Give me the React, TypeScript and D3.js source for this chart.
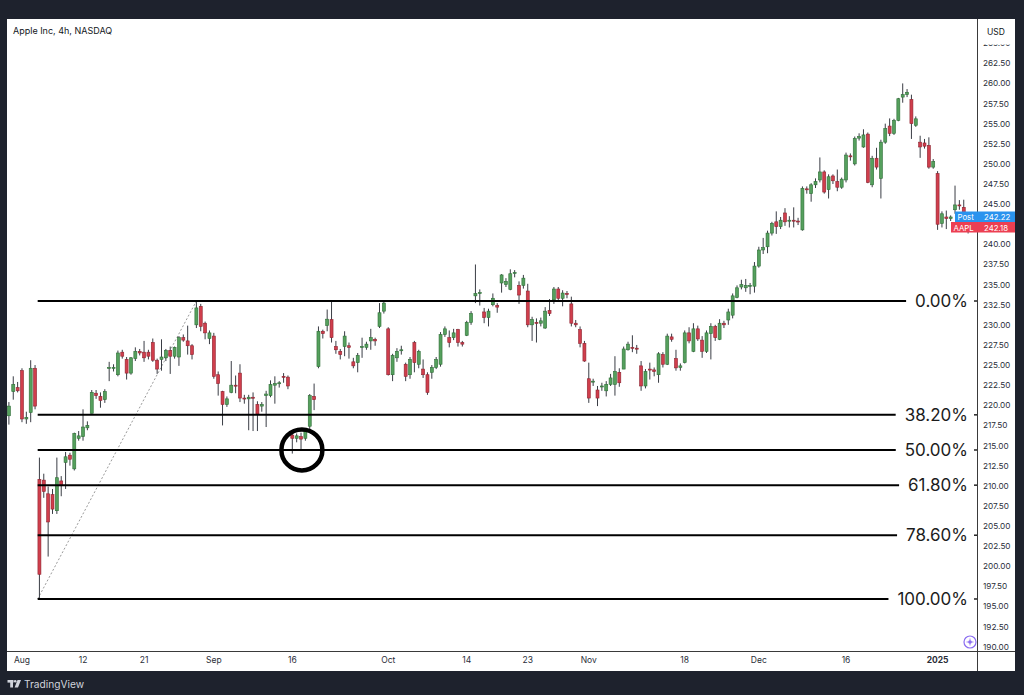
import React from "react";
import * as d3 from "d3";

// ---- data: 4h candles [open, high, low, close], bar-by-bar ----
const julBars: number[][] = [
  [218.7, 220.4, 217.6, 219.9], [221.7, 223.6, 220.7, 222.6], [222.2, 222.9, 221.6, 221.8],
];
const augBars: number[][] = [
  [224.3, 224.6, 217.9, 218.3], [218.3, 219.2, 217.7, 218.5], [219.1, 225.6, 217.9, 224.6], [224.6, 225.0, 219.5, 219.9],
  [210.8, 213.5, 195.93, 199.0], [210.7, 211.5, 208.5, 209.3], [209.0, 209.9, 201.2, 205.5], [208.9, 209.6, 206.5, 207.1],
  [206.9, 213.5, 206.5, 211.0], [210.6, 211.2, 208.7, 210.0], [212.9, 214.2, 209.6, 213.6], [213.8, 214.1, 212.5, 213.3],
  [212.1, 216.6, 211.9, 216.5], [215.9, 216.8, 215.6, 216.2], [216.1, 219.5, 215.6, 217.3], [217.2, 218.0, 216.9, 217.5],
  [219.0, 221.9, 219.0, 221.6], [221.5, 221.9, 220.8, 221.2], [221.1, 221.6, 219.7, 220.6], [220.7, 222.0, 220.3, 221.7],
  [224.6, 225.4, 223.0, 224.7], [224.7, 225.1, 224.2, 224.7], [223.8, 226.8, 223.6, 226.5], [226.6, 226.9, 225.8, 226.1],
  [225.7, 226.0, 223.2, 224.0], [224.0, 226.0, 223.8, 225.9], [225.8, 227.2, 225.5, 226.7], [226.7, 227.0, 226.2, 226.5],
  [226.6, 228.0, 225.4, 225.9], [226.6, 226.9, 225.7, 226.1], [227.8, 228.3, 225.4, 225.6], [225.6, 225.8, 223.9, 224.5],
  [225.7, 228.2, 224.3, 226.0], [225.9, 227.0, 225.5, 226.8], [226.8, 227.3, 223.9, 226.1], [226.1, 227.3, 225.8, 227.2],
  [226.0, 228.6, 224.9, 228.4], [228.4, 228.8, 227.9, 228.1], [228.0, 229.9, 226.3, 227.4], [227.4, 227.6, 225.7, 226.3],
  [230.0, 232.96, 229.6, 232.1], [232.3, 232.6, 229.2, 229.8], [230.2, 230.4, 228.2, 229.0], [228.3, 229.3, 227.6, 229.0],
];
const sepBars: number[][] = [
  [228.6, 229.0, 223.3, 223.6], [223.8, 224.2, 221.2, 222.7], [221.7, 221.8, 217.5, 220.1], [220.1, 221.1, 219.8, 220.8],
  [221.6, 225.5, 221.5, 222.5], [222.5, 223.7, 221.5, 222.4], [224.0, 225.1, 220.4, 220.9], [220.9, 221.3, 220.2, 220.8],
  [220.8, 221.3, 216.9, 221.0], [221.0, 221.6, 216.8, 220.9], [220.1, 220.5, 216.8, 218.9], [219.9, 220.4, 219.2, 220.1],
  [221.2, 221.8, 217.3, 221.4], [221.2, 223.1, 221.0, 222.6], [222.5, 223.6, 220.2, 222.7], [222.7, 223.0, 222.2, 222.8],
  [223.6, 224.0, 222.8, 223.5], [223.5, 223.7, 222.0, 222.4], [216.3, 216.8, 214.0, 215.9], [215.9, 216.5, 215.4, 216.2],
  [216.1, 216.6, 214.5, 215.8], [215.9, 216.9, 215.6, 216.8], [217.4, 221.4, 217.0, 221.2], [221.1, 222.7, 219.4, 220.7],
  [224.8, 229.8, 224.6, 229.2], [229.2, 229.4, 228.3, 228.9], [229.9, 231.9, 229.2, 230.7], [230.65, 232.9, 227.8, 228.4],
  [227.3, 228.0, 226.4, 226.9], [226.7, 227.0, 225.7, 226.3], [227.3, 229.2, 226.1, 228.6], [227.4, 227.8, 225.8, 227.2],
  [225.4, 225.9, 224.6, 224.9], [225.3, 226.5, 224.1, 226.2], [227.2, 228.4, 225.9, 227.3], [227.2, 227.9, 226.9, 227.6],
  [228.0, 229.5, 226.9, 228.4], [228.2, 228.4, 227.4, 228.0], [229.8, 232.7, 229.6, 231.5], [231.7, 233.0, 231.4, 232.7],
];
const octBars: number[][] = [
  [229.5, 229.7, 223.7, 223.8], [223.8, 226.4, 223.0, 226.2], [225.9, 227.1, 225.4, 226.7], [226.9, 227.4, 226.3, 226.9],
  [225.1, 225.3, 223.0, 223.6], [223.8, 226.0, 223.3, 225.7], [227.8, 228.0, 224.1, 225.3], [225.1, 226.9, 224.6, 226.7],
  [224.5, 225.7, 223.4, 223.8], [223.8, 224.1, 221.3, 221.6], [224.1, 225.0, 223.3, 224.7], [224.7, 226.0, 224.5, 225.7],
  [225.1, 229.1, 224.8, 228.8], [228.8, 229.8, 228.5, 229.5], [228.4, 229.3, 227.2, 227.8], [228.4, 229.5, 228.1, 229.0],
  [229.4, 229.5, 227.3, 227.8], [227.8, 228.0, 227.3, 227.6], [228.7, 230.5, 228.6, 230.3], [230.3, 231.7, 230.0, 231.4],
  [233.6, 237.5, 232.7, 233.9], [233.9, 234.4, 232.4, 234.0], [231.6, 232.1, 230.2, 230.9], [230.9, 232.0, 229.8, 231.7],
  [232.5, 233.9, 232.3, 233.3], [232.4, 232.7, 231.5, 232.2], [235.2, 236.3, 234.0, 236.2], [235.0, 235.8, 234.7, 235.4],
  [234.4, 236.9, 234.3, 236.35], [236.4, 236.8, 235.9, 236.5], [234.9, 235.4, 232.6, 233.7], [234.9, 236.2, 234.5, 235.8],
  [234.2, 235.1, 229.7, 230.0], [230.0, 231.0, 228.0, 230.65], [230.3, 230.8, 227.8, 230.2], [230.2, 230.9, 229.8, 230.5],
  [229.6, 232.2, 229.5, 231.7], [231.8, 233.2, 231.1, 231.4], [233.1, 234.7, 232.6, 234.45], [234.45, 234.7, 233.0, 233.3],
  [233.3, 234.3, 232.3, 233.95], [233.9, 234.2, 233.3, 233.8], [232.6, 233.5, 229.8, 230.2], [230.2, 230.6, 229.7, 230.0],
  [229.4, 229.8, 227.2, 227.7], [227.7, 228.0, 225.4, 225.5],
];
const novBars: number[][] = [
  [223.3, 225.3, 220.3, 220.9], [222.9, 223.3, 222.4, 223.0], [221.9, 222.4, 219.9, 220.9], [222.3, 222.8, 221.8, 222.4],
  [221.8, 223.0, 221.1, 222.6], [222.6, 223.9, 222.4, 223.4], [222.6, 226.1, 221.2, 224.2], [224.1, 224.6, 222.3, 222.8],
  [224.5, 227.3, 224.5, 227.0], [226.9, 227.9, 226.8, 227.6], [227.2, 228.7, 226.6, 227.1], [227.1, 227.5, 226.4, 227.0],
  [224.9, 225.5, 221.8, 222.4], [222.4, 224.5, 222.1, 224.2], [224.5, 225.3, 223.2, 224.4], [224.4, 224.7, 223.6, 224.2],
  [223.8, 226.6, 222.8, 226.4], [226.3, 226.6, 224.7, 225.1], [225.1, 228.9, 225.0, 228.6], [228.5, 228.9, 227.9, 228.2],
  [225.8, 226.9, 224.3, 224.65], [224.7, 225.2, 224.3, 224.9], [225.3, 229.3, 225.2, 229.0], [229.0, 229.7, 227.7, 228.0],
  [226.7, 230.2, 226.6, 229.5], [229.5, 229.9, 228.0, 228.25], [228.1, 228.6, 225.9, 226.7], [226.7, 229.3, 226.5, 229.0],
  [228.9, 230.2, 225.7, 229.8], [229.8, 230.0, 228.0, 228.4], [228.2, 230.7, 228.1, 230.2], [230.2, 230.5, 229.6, 230.0],
  [230.6, 232.0, 230.0, 231.6], [231.2, 233.9, 230.8, 233.6], [233.4, 234.9, 233.3, 234.6], [234.7, 235.6, 234.4, 235.0],
  [234.6, 235.7, 234.1, 234.9], [234.8, 235.2, 233.8, 234.9], [234.8, 237.8, 234.0, 237.3],
];
const decBars: number[][] = [
  [237.3, 239.7, 237.1, 239.3], [239.3, 240.8, 238.8, 239.6], [239.7, 241.7, 238.9, 241.4], [241.4, 242.8, 241.1, 242.6],
  [242.8, 244.1, 241.3, 242.2], [242.2, 243.4, 241.9, 243.0], [243.9, 244.5, 242.3, 242.8], [242.9, 243.5, 242.1, 243.0],
  [243.0, 244.6, 242.1, 242.9], [242.9, 243.3, 242.4, 242.8], [241.8, 247.2, 241.7, 246.96], [246.9, 247.2, 246.3, 246.8],
  [246.3, 247.6, 245.3, 247.4], [247.4, 248.2, 247.0, 247.8], [248.0, 250.8, 247.7, 249.0], [249.0, 249.2, 246.3, 246.5],
  [246.8, 248.7, 245.7, 248.4], [248.5, 248.7, 247.5, 247.9], [247.8, 249.3, 246.6, 247.1], [247.1, 248.3, 246.9, 248.1],
  [248.0, 251.4, 247.7, 251.1], [251.0, 251.3, 250.4, 250.9], [250.0, 253.4, 249.8, 253.15], [253.2, 253.8, 252.9, 253.4],
  [252.1, 254.3, 252.0, 253.6], [253.7, 253.9, 247.6, 247.7], [247.4, 251.0, 247.1, 250.7], [250.7, 252.0, 249.3, 249.6],
  [248.2, 253.0, 245.7, 252.7], [252.7, 255.0, 252.5, 254.4], [254.7, 255.65, 253.45, 253.8], [253.8, 255.6, 253.6, 255.4],
  [255.4, 258.2, 255.3, 258.1], [258.3, 260.0, 257.6, 258.6], [258.6, 259.3, 258.3, 258.9], [258.0, 258.6, 253.1, 255.0],
  [254.8, 255.9, 254.6, 255.6], [252.7, 253.5, 250.75, 252.1], [252.6, 253.1, 251.9, 252.2], [252.3, 253.3, 249.4, 249.6],
  [249.6, 250.6, 249.4, 250.3],
];
const janBars: number[][] = [
  [248.8, 249.1, 241.8, 242.5], [242.6, 244.1, 242.1, 243.8], [243.4, 244.2, 241.9, 243.2], [243.2, 243.6, 242.9, 243.4],
  [244.3, 247.3, 243.8, 244.9], [244.9, 245.5, 244.3, 244.8], [244.6, 245.55, 241.9, 242.4], [242.4, 243.1, 241.35, 242.18],
];

// x-axis labels and the bar each one sits on
const xTickLabels = ["Aug", "12", "21", "Sep", "16", "Oct", "14", "23", "Nov", "18", "Dec", "16", "2025"];
const xTickBars = [3, 17, 31, 47, 65, 87, 105, 119, 133, 155, 172, 192, 213];
const xTickBold = [false, false, false, false, false, false, false, false, false, false, false, false, true];

// price-axis labels (242.50 sits under the last-price tags, as in the reference)
const yTickValues = [190, 192.5, 195, 197.5, 200, 202.5, 205, 207.5, 210, 212.5, 215, 217.5, 220, 222.5, 225,
  227.5, 230, 232.5, 235, 237.5, 240, 245, 247.5, 250, 252.5, 255, 257.5, 260, 262.5, 265];

// Fibonacci retracement
const fibHigh = 232.96;
const fibLow = 195.93;
const fibLevels = [0, 0.382, 0.5, 0.618, 0.786, 1];
const fibLabels = ["0.00%", "38.20%", "50.00%", "61.80%", "78.60%", "100.00%"];
const fibStartBar = 6.6;
const fibHighBar = 43;

// highlighted test of the 50% level
const circleBar = 67.2;
const circlePrice = 214.45;

const postPrice = 242.22;
const lastPrice = 242.18;

const UP_FILL = "#55a05d";
const UP_STROKE = "#2f6e37";
const DN_FILL = "#d03e4c";
const DN_STROKE = "#8e2431";
const FONT = "Inter, 'Noto Sans', sans-serif";

function measure(text: string, font: string): number {
  if (typeof document === "undefined") return text.length * 9;
  const c = document.createElement("canvas");
  const ctx = c.getContext("2d");
  if (!ctx) return text.length * 9;
  ctx.font = font;
  return ctx.measureText(text).width;
}

export default function App() {
  const bars = [...julBars, ...augBars, ...sepBars, ...octBars, ...novBars, ...decBars, ...janBars];

  const plotL = 7, plotR = 977, plotT = 19, plotB = 651;
  const x = d3.scaleLinear().domain([-0.436, 222.04]).range([plotL, plotR]);
  const y = d3.scaleLinear().domain([190, 262.5]).range([646.7, 63.3]);
  const bw = 3;

  const fibFontSize = 17;
  const fibRight = 968;
  const fibX0 = x(fibStartBar);

  return (
    <svg width={1024} height={695} style={{ position: "fixed", left: 0, top: 0, display: "block" }}
      fontFamily={FONT}>
      <defs>
        <clipPath id="plotClip">
          <rect x={plotL} y={plotT} width={plotR - plotL} height={plotB - plotT} />
        </clipPath>
        <clipPath id="axisClip">
          <rect x={plotR} y={44.5} width={40} height={plotB - 44.5} />
        </clipPath>
      </defs>
      <rect x={0} y={0} width={1024} height={695} fill="#1e222d" />
      <rect x={7} y={19} width={1008} height={652} fill="#ffffff" />

      {/* title */}
      <text x={13} y={34} fontSize={9} fill="#131722">Apple Inc, 4h, NASDAQ</text>

      <g clipPath="url(#plotClip)">
        {/* fib trend line */}
        <line x1={fibX0} y1={y(fibLow)} x2={x(fibHighBar)} y2={y(fibHigh)}
          stroke="#9a9a9a" strokeWidth={1} strokeDasharray="2,2" />

        {/* candles */}
        {bars.map((b, i) => {
          const [o, h, l, c] = b;
          const up = c >= o;
          const cx = x(i);
          const top = y(Math.max(o, c));
          const bot = y(Math.min(o, c));
          const bh = Math.max(1, bot - top);
          return (
            <g key={i}>
              <line x1={cx} x2={cx} y1={y(h)} y2={y(l)} stroke="#3a3d45" strokeWidth={1} />
              <rect x={cx - bw / 2} y={top} width={bw} height={bh}
                fill={up ? UP_FILL : DN_FILL} stroke={up ? UP_STROKE : DN_STROKE} strokeWidth={0.6} />
            </g>
          );
        })}

        {/* fib levels */}
        {fibLevels.map((lv, i) => {
          const price = fibHigh - lv * (fibHigh - fibLow);
          const yy = y(price);
          const w = measure(fibLabels[i], `${fibFontSize}px Inter`);
          return (
            <g key={lv}>
              <line x1={fibX0} x2={fibRight - w - 9} y1={yy} y2={yy} stroke="#000" strokeWidth={2} />
              <text x={fibRight} y={yy + 6} fontSize={fibFontSize} textAnchor="end" fill="#1c1c1c">{fibLabels[i]}</text>
              <line x1={974} x2={977} y1={yy} y2={yy} stroke="#222" strokeWidth={1.5} />
            </g>
          );
        })}

        {/* circle */}
        <circle cx={x(circleBar)} cy={y(circlePrice)} r={20.5} fill="none" stroke="#000" strokeWidth={4.5} />

        {/* purple icon */}
        <circle cx={970} cy={642} r={6} fill="#fff" stroke="#8a6cf0" strokeWidth={1.2} />
        <circle cx={970} cy={642} r={1.8} fill="#8a6cf0" />
        <line x1={966.5} x2={973.5} y1={642} y2={642} stroke="#8a6cf0" strokeWidth={0.8} />
        <line x1={970} x2={970} y1={638.5} y2={645.5} stroke="#8a6cf0" strokeWidth={0.8} />
      </g>

      {/* axes borders */}
      <line x1={plotR + 0.5} x2={plotR + 0.5} y1={19} y2={671} stroke="#3a3a3a" strokeWidth={1} />
      <line x1={7} x2={1015} y1={plotB + 0.5} y2={plotB + 0.5} stroke="#3a3a3a" strokeWidth={1} />

      {/* price axis */}
      <text x={987} y={35} fontSize={8.5} fill="#131722">USD</text>
      <g clipPath="url(#axisClip)">
        {yTickValues.map((v) => (
          <text key={v} x={983} y={y(v) + 3} fontSize={8.2} fill="#2a2e39">{v.toFixed(2)}</text>
        ))}
      </g>

      {/* time axis */}
      {xTickLabels.map((t, i) => (
        <text key={i} x={x(xTickBars[i])} y={663} fontSize={8.5} textAnchor="middle"
          fontWeight={xTickBold[i] ? 700 : 400} fill="#2a2e39">{t}</text>
      ))}

      {/* last price labels */}
      <g>
        <rect x={955} y={211.5} width={60} height={10.5} fill="#2a93ee" />
        <text x={957.5} y={219.5} fontSize={7.8} fill="#fff">Post</text>
        <text x={984} y={219.5} fontSize={7.8} fill="#fff">{postPrice.toFixed(2)}</text>
        <rect x={951} y={222} width={64} height={10.5} fill="#ec3f52" />
        <text x={953.5} y={230.5} fontSize={7.8} fill="#fff">AAPL</text>
        <text x={984} y={230.5} fontSize={7.8} fill="#fff">{lastPrice.toFixed(2)}</text>
      </g>

      {/* TradingView footer */}
      <g fill="#d1d4dc">
        <rect x={7.5} y={680} width={6} height={2.6} />
        <rect x={10.2} y={680} width={2.8} height={7.5} />
        <circle cx={15.2} cy={681.3} r={1.3} />
        <path d="M17.5 680 L21 680 L18 687.5 L14.6 687.5 Z" />
        <text x={24} y={687.5} fontSize={10.2} fill="#d1d4dc">TradingView</text>
      </g>
    </svg>
  );
}
